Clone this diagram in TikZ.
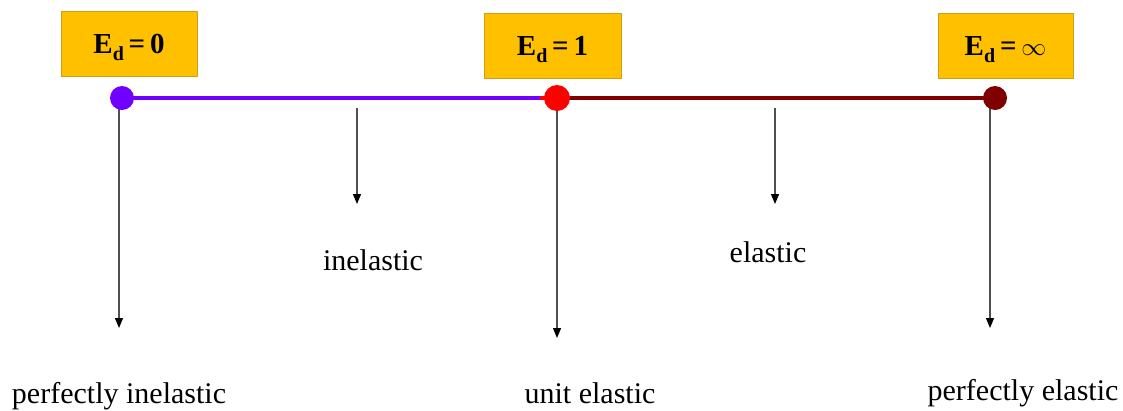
\documentclass[tikz,border=0pt]{standalone}
\usepackage{fontspec}
\setmainfont{Liberation Serif}
\usetikzlibrary{arrows.meta}
\definecolor{boxfill}{RGB}{255,192,0}
\definecolor{boxline}{RGB}{205,160,20}
\definecolor{vio}{RGB}{112,0,255}
\definecolor{dred}{RGB}{128,0,0}
\definecolor{brred}{RGB}{255,0,0}
\definecolor{arrgray}{RGB}{80,80,80}
\newcommand{\edsub}{\raisebox{-6.5pt}{\fontsize{20}{20}\selectfont d}}
\begin{document}
\begin{tikzpicture}[x=1pt,y=-1pt,
  edbox/.style={draw=boxline,line width=1pt,fill=boxfill,minimum height=65pt,inner sep=0pt,
    text height=19pt,text depth=0pt,
    font=\fontsize{29}{30}\selectfont\bfseries},
  dot/.style={circle,inner sep=0pt},
  lbl/.style={anchor=base,inner sep=0pt,font=\fontsize{30}{32}\selectfont},
  arr/.style={draw=arrgray,line width=1.2pt,-{Triangle[length=10pt,width=8pt,fill=black,color=black]}},
  bar/.style={line width=4pt}]
\useasboundingbox (0,0) rectangle (1123,410);
% boxes
\node[edbox,minimum width=136pt] (b0) at (129,44) {E\edsub\,=\,0};
\node[edbox,minimum width=137pt] (b1) at (552.5,46) {E\edsub\,=\,1};
\node[edbox,minimum width=135pt] (b2) at (1005.5,46) {E\edsub\,=\,{\mdseries$\infty$}};
% line coordinates
\coordinate (p0) at (122,98);
\coordinate (pj) at (540,98);
\coordinate (p1) at (557,98);
\coordinate (p2) at (995,98);
\draw[bar,vio] (p0) -- (pj);
\draw[bar,brred] (pj) -- (p1);
\draw[bar,dred] (p1) -- (p2);
% arrows
\coordinate (a0s) at (119,108);
\coordinate (a0e) at (119,328);
\coordinate (a1s) at (557,110);
\coordinate (a1e) at (557,338);
\coordinate (a2s) at (990,108);
\coordinate (a2e) at (990,328);
\coordinate (m0s) at (357,108);
\coordinate (m0e) at (357,204);
\coordinate (m1s) at (775,108);
\coordinate (m1e) at (775,204);
\draw[arr] (a0s) -- (a0e);
\draw[arr] (a1s) -- (a1e);
\draw[arr] (a2s) -- (a2e);
\draw[arr] (m0s) -- (m0e);
\draw[arr] (m1s) -- (m1e);
% dots
\node[dot,fill=vio,minimum size=24pt] (d0) at (p0) {};
\node[dot,fill=brred,minimum size=26pt] (d1) at (p1) {};
\node[dot,fill=dred,minimum size=24pt] (d2) at (p2) {};
% labels
\node[lbl] (l0) at (119,403) {perfectly inelastic};
\node[lbl] (l1) at (373,270) {inelastic};
\node[lbl] (l2) at (768,262) {elastic};
\node[lbl] (l3) at (590,403) {unit elastic};
\node[lbl] (l4) at (1023,400) {perfectly elastic};
\end{tikzpicture}
\end{document}
